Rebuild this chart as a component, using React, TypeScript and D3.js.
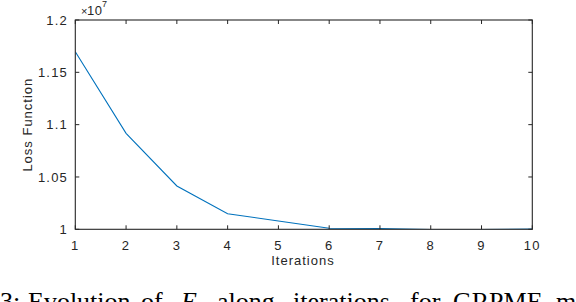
import React from "react";
import * as d3 from "d3";

const iterations = [1, 2, 3, 4, 5, 6, 7, 8, 9, 10];
const lossValues = [11697000, 10917000, 10414000, 10149000, 10080000, 10010000, 10008000, 9998000, 9998000, 10003000];
const xTicks = [1, 2, 3, 4, 5, 6, 7, 8, 9, 10];
const yTicks = [10000000, 10500000, 11000000, 11500000, 12000000];
const yTickLabels = ["1", "1.05", "1.1", "1.15", "1.2"];
const captionWords = ["3:", "Evolution", "of", "E", "along", "iterations,", "for", "GRPME", "mo"];
const captionX = [0, 28, 141, 181, 217, 293, 410, 453, 556];

const W = 576;
const H = 302;
const L = 75.3, R = 532.3, T = 20, B = 229.3;

export default function App() {
  const x = d3.scaleLinear().domain([1, 10]).range([L, R]);
  const y = d3.scaleLinear().domain([10000000, 12000000]).range([B, T]);
  const line = d3
    .line<number>()
    .x((_, i) => x(iterations[i]))
    .y((d) => y(d));
  const font = "'Liberation Sans', Arial, sans-serif";
  const tickLen = 4;
  return (
    <svg
      width={W}
      height={H}
      style={{ position: "absolute", left: 0, top: 0, background: "#fff" }}
    >
      <defs>
        <clipPath id="plotclip">
          <rect x={L} y={T} width={R - L} height={B - T} />
        </clipPath>
      </defs>
      <rect x={0} y={0} width={W} height={H} fill="#fff" />
      <path
        d={line(lossValues) || ""}
        fill="none"
        stroke="#0072BD"
        strokeWidth={1.1}
        clipPath="url(#plotclip)"
      />
      {xTicks.map((t) => (
        <g key={"xt" + t}>
          <line x1={x(t)} x2={x(t)} y1={B} y2={B - tickLen} stroke="#262626" strokeWidth={1} />
          <line x1={x(t)} x2={x(t)} y1={T} y2={T + tickLen} stroke="#262626" strokeWidth={1} />
          <text
            x={x(t)}
            y={250}
            textAnchor="middle"
            fontFamily={font}
            fontSize={13}
            letterSpacing={1.2}
            fill="#262626"
          >
            {t}
          </text>
        </g>
      ))}
      {yTicks.map((t, i) => (
        <g key={"yt" + t}>
          <line x1={L} x2={L + tickLen} y1={y(t)} y2={y(t)} stroke="#262626" strokeWidth={1} />
          <line x1={R} x2={R - tickLen} y1={y(t)} y2={y(t)} stroke="#262626" strokeWidth={1} />
          <text
            x={68}
            y={y(t) + 4.7}
            textAnchor="end"
            fontFamily={font}
            fontSize={13}
            letterSpacing={1.2}
            fill="#262626"
          >
            {yTickLabels[i]}
          </text>
        </g>
      ))}
      <rect x={L} y={T} width={R - L} height={B - T} fill="none" stroke="#262626" strokeWidth={1.1} />
      <text x={81} y={15} fontFamily={font} fontSize={11} fill="#262626">
        ×
      </text>
      <text x={87} y={15} fontFamily={font} fontSize={13} letterSpacing={0.6} fill="#262626">
        10
      </text>
      <text x={102} y={7} fontFamily={font} fontSize={9} fill="#262626">
        7
      </text>
      <text
        x={303}
        y={265}
        textAnchor="middle"
        fontFamily={font}
        fontSize={13}
        letterSpacing={1}
        fill="#262626"
      >
        Iterations
      </text>
      <text
        transform={`translate(32,${(T + B) / 2}) rotate(-90)`}
        textAnchor="middle"
        fontFamily={font}
        fontSize={13}
        letterSpacing={1}
        fill="#262626"
      >
        Loss Function
      </text>
      {captionWords.map((w, i) => (
        <text
          key={"cw" + i}
          x={captionX[i]}
          y={310}
          fontFamily="'Liberation Serif', 'Times New Roman', serif"
          fontSize={26}
          fontStyle={w === "E" ? "italic" : "normal"}
          fill="#000"
        >
          {w}
        </text>
      ))}
    </svg>
  );
}
